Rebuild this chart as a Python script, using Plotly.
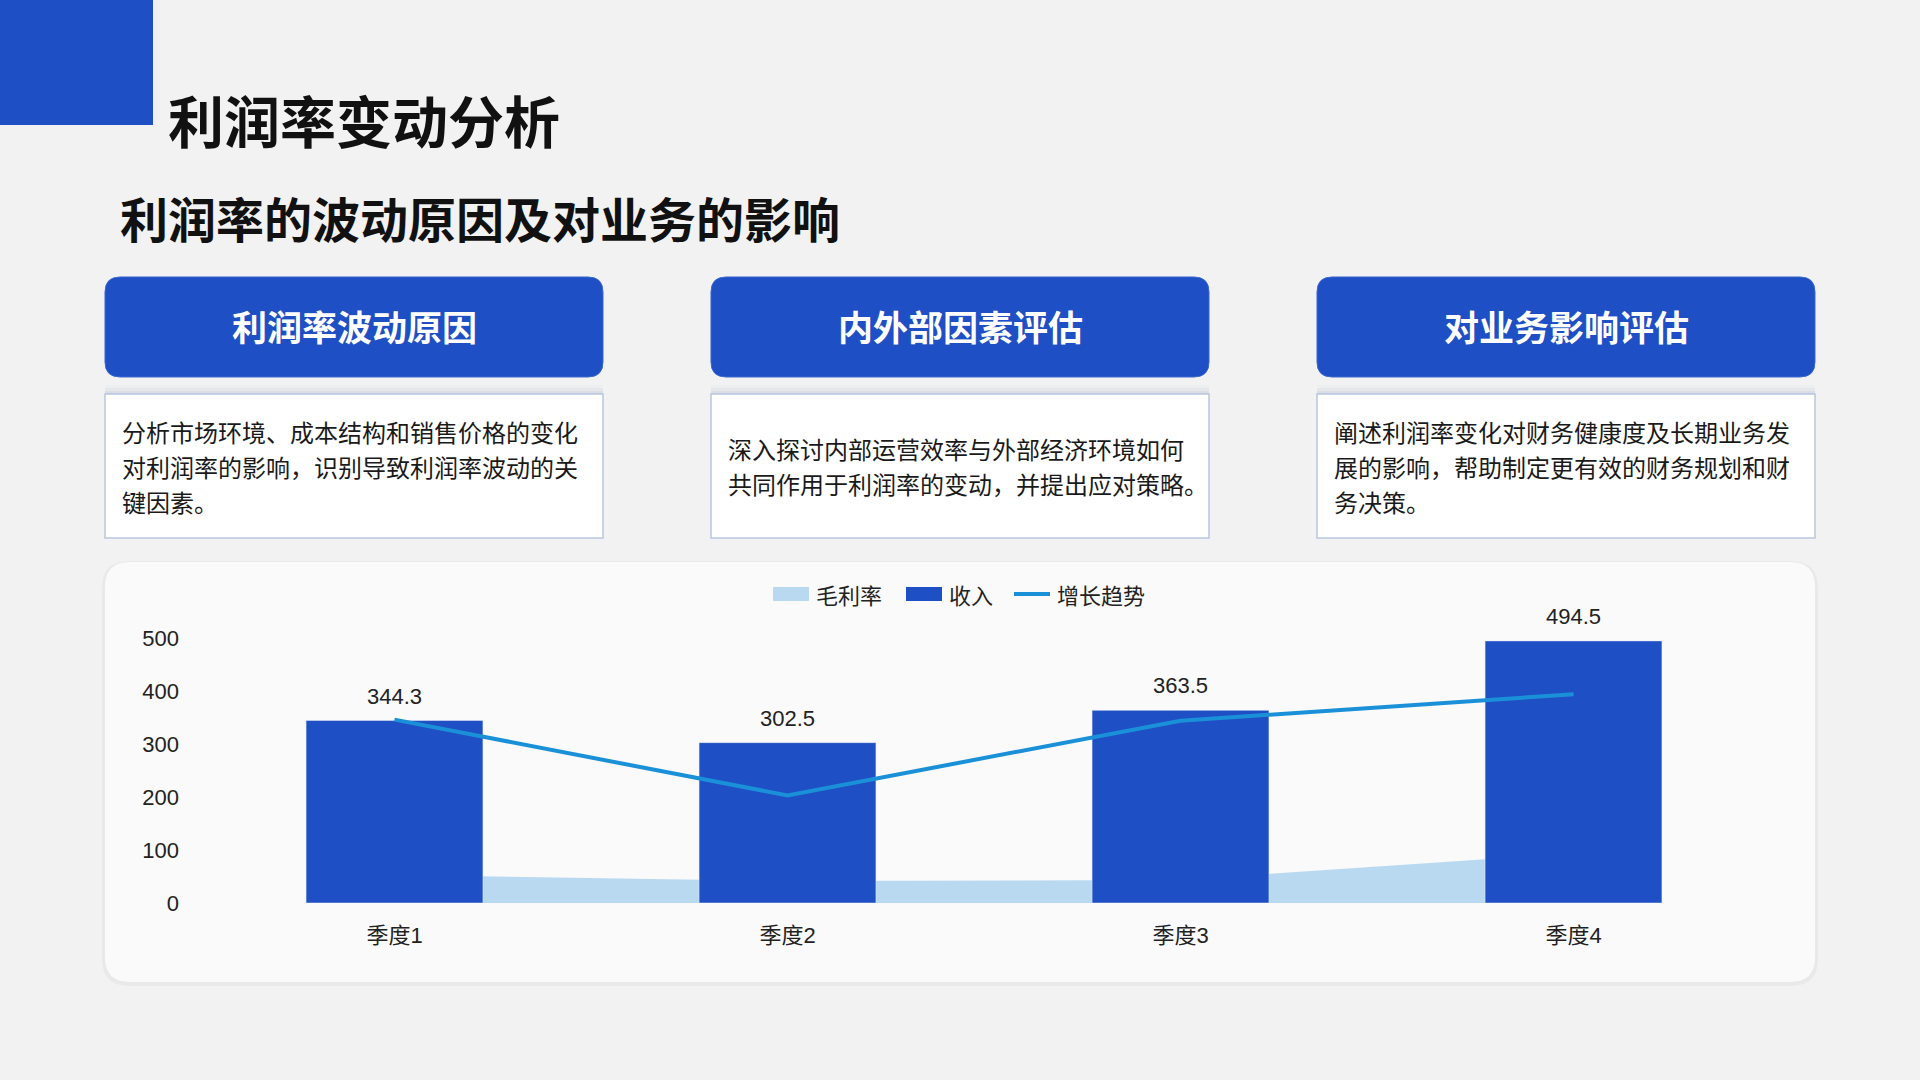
import plotly.graph_objects as go

W, H = 1920, 1080

# chart data
categories = ["季度1", "季度2", "季度3", "季度4"]
revenue = [344.3, 302.5, 363.5, 494.5]
gross_margin = [53.0, 41.5, 43.5, 94.0]
trend = [346, 203, 344, 394]
y_ticks = [0, 100, 200, 300, 400, 500]
series_names = ["毛利率", "收入", "增长趋势"]

# slide text
title = "利润率变动分析"
subtitle = "利润率的波动原因及对业务的影响"
card_titles = ["利润率波动原因", "内外部因素评估", "对业务影响评估"]
card_lines = [
    ["分析市场环境、成本结构和销售价格的变化", "对利润率的影响，识别导致利润率波动的关", "键因素。"],
    ["深入探讨内部运营效率与外部经济环境如何", "共同作用于利润率的变动，并提出应对策略。"],
    ["阐述利润率变化对财务健康度及长期业务发", "展的影响，帮助制定更有效的财务规划和财", "务决策。"],
]

BLUE = "#1F4FC4"
LIGHT = "#B9D9F1"
LINE = "#1A90D8"
CJK = "Noto Sans CJK SC"
NUM = "Liberation Sans, Noto Sans CJK SC"


def px(x):
    return x / W


def py(y):
    return 1 - y / H


def rounded(x0, y0, x1, y1, r):
    pts = [
        ("M", [(x0 + r, y0)]), ("L", [(x1 - r, y0)]), ("Q", [(x1, y0), (x1, y0 + r)]),
        ("L", [(x1, y1 - r)]), ("Q", [(x1, y1), (x1 - r, y1)]), ("L", [(x0 + r, y1)]),
        ("Q", [(x0, y1), (x0, y1 - r)]), ("L", [(x0, y0 + r)]), ("Q", [(x0, y0), (x0 + r, y0)]),
    ]
    s = ""
    for cmd, ps in pts:
        s += cmd + " ".join(f"{px(a):.5f},{py(b):.5f}" for a, b in ps) + " "
    return s + "Z"


fig = go.Figure()

fig.add_trace(go.Scatter(
    x=categories, y=gross_margin, name=series_names[0], mode="lines",
    fill="tozeroy", fillcolor=LIGHT, line=dict(width=0, color=LIGHT),
    zorder=0, hoverinfo="skip",
))
fig.add_trace(go.Bar(
    x=categories, y=revenue, name=series_names[1], marker_color=BLUE, width=0.45, zorder=1,
))
fig.add_trace(go.Scatter(
    x=categories, y=trend, name=series_names[2], mode="lines",
    line=dict(color=LINE, width=4), zorder=2,
))

shapes = []
# top-left block
shapes.append(dict(type="rect", xref="paper", yref="paper", x0=0, x1=px(153), y0=py(125), y1=1,
                   fillcolor=BLUE, line_width=0, layer="below"))

annotations = [
    dict(text=f"<b>{title}</b>", x=px(166), y=py(119), xanchor="left", yanchor="middle",
         font=dict(size=56, family=CJK, color="#111111")),
    dict(text=f"<b>{subtitle}</b>", x=px(118), y=py(217), xanchor="left", yanchor="middle",
         font=dict(size=48, family=CJK, color="#111111")),
]

box_x = [105, 711, 1317]
box_w = 498
for i, bx in enumerate(box_x):
    # header
    shapes.append(dict(type="path", xref="paper", yref="paper", path=rounded(bx, 277, bx + box_w, 377, 15),
                       fillcolor=BLUE, line=dict(color="#3A66CF", width=1), layer="below"))
    annotations.append(dict(text=f"<b>{card_titles[i]}</b>", x=px(bx + box_w / 2), y=py(325),
                            xanchor="center", yanchor="middle",
                            font=dict(size=35, family=CJK, color="white")))
    # soft shadow above text box
    for k, a in enumerate([0.06, 0.10, 0.16]):
        shapes.append(dict(type="rect", xref="paper", yref="paper", x0=px(bx), x1=px(bx + box_w),
                           y0=py(394), y1=py(385 + 3 * k), fillcolor=f"rgba(170,180,200,{a})",
                           line_width=0, layer="below"))
    # text box
    shapes.append(dict(type="rect", xref="paper", yref="paper", x0=px(bx), x1=px(bx + box_w),
                       y0=py(538), y1=py(394), fillcolor="white",
                       line=dict(color="#B8C6E2", width=1.5), layer="below"))
    lines = card_lines[i]
    n = len(lines)
    top = 466 - (n - 1) * 35 / 2
    for j, ln in enumerate(lines):
        annotations.append(dict(text=ln, x=px(bx + 15), y=py(top + j * 35), xanchor="left", yanchor="middle",
                                font=dict(size=24, family=CJK, color="#1A1A1A")))

# chart card with subtle shadow
shapes.append(dict(type="path", xref="paper", yref="paper", path=rounded(102, 561, 1818, 986, 27),
                   fillcolor="rgba(0,0,0,0.035)", line_width=0, layer="below"))
shapes.append(dict(type="path", xref="paper", yref="paper", path=rounded(105, 562, 1815, 982, 25),
                   fillcolor="#FAFAFA", line_width=0, layer="below"))

# legend drawn by hand so the swatches are wide like the original
leg_y = 594
leg_items = [(773, "rect", LIGHT), (906, "rect", BLUE), (1014, "line", LINE)]
for (lx, kind, col), name in zip(leg_items, series_names):
    if kind == "rect":
        shapes.append(dict(type="rect", xref="paper", yref="paper", x0=px(lx), x1=px(lx + 36),
                           y0=py(leg_y + 7), y1=py(leg_y - 7), fillcolor=col, line_width=0))
    else:
        shapes.append(dict(type="line", xref="paper", yref="paper", x0=px(lx), x1=px(lx + 36),
                           y0=py(leg_y), y1=py(leg_y), line=dict(color=col, width=4)))
    annotations.append(dict(text=name, x=px(lx + 41), y=py(leg_y), xanchor="left", yanchor="middle",
                            font=dict(size=22, family=CJK, color="#222222")))

# value labels above the bars
for c, v in zip(categories, revenue):
    annotations.append(dict(text=f"{v:.1f}", x=c, y=v, xref="x", yref="y", xanchor="center",
                            yanchor="bottom", yshift=10,
                            font=dict(size=22, family=NUM, color="#222222")))

# y scale: 0 at 903px, 500 at 638px
unit = (903 - 638) / 500
y_max = 500

fig.update_layout(
    width=W, height=H, autosize=False,
    margin=dict(l=0, r=0, t=0, b=0),
    paper_bgcolor="#F2F2F2", plot_bgcolor="rgba(0,0,0,0)",
    shapes=shapes, annotations=annotations,
    showlegend=False,
    xaxis=dict(domain=[px(198), px(1770)], showgrid=False, zeroline=False, automargin=False,
               showline=True, linecolor="#D9D9D9", linewidth=1.5, ticks="",
               tickfont=dict(size=22, family=NUM, color="#222222"), ticklabelstandoff=12),
    yaxis=dict(domain=[py(903), py(903 - y_max * unit)], range=[0, y_max], tickvals=y_ticks,
               showgrid=False, zeroline=False, showline=False, ticks="", automargin=False,
               tickfont=dict(size=22, family=NUM, color="#222222"), ticklabelstandoff=18),
)
for a in fig.layout.annotations:
    if a.xref is None:
        a.xref = "paper"
        a.yref = "paper"
    a.showarrow = False

fig.write_html("out.html", config={"displayModeBar": False},
               post_script="document.body.style.margin='0';")
